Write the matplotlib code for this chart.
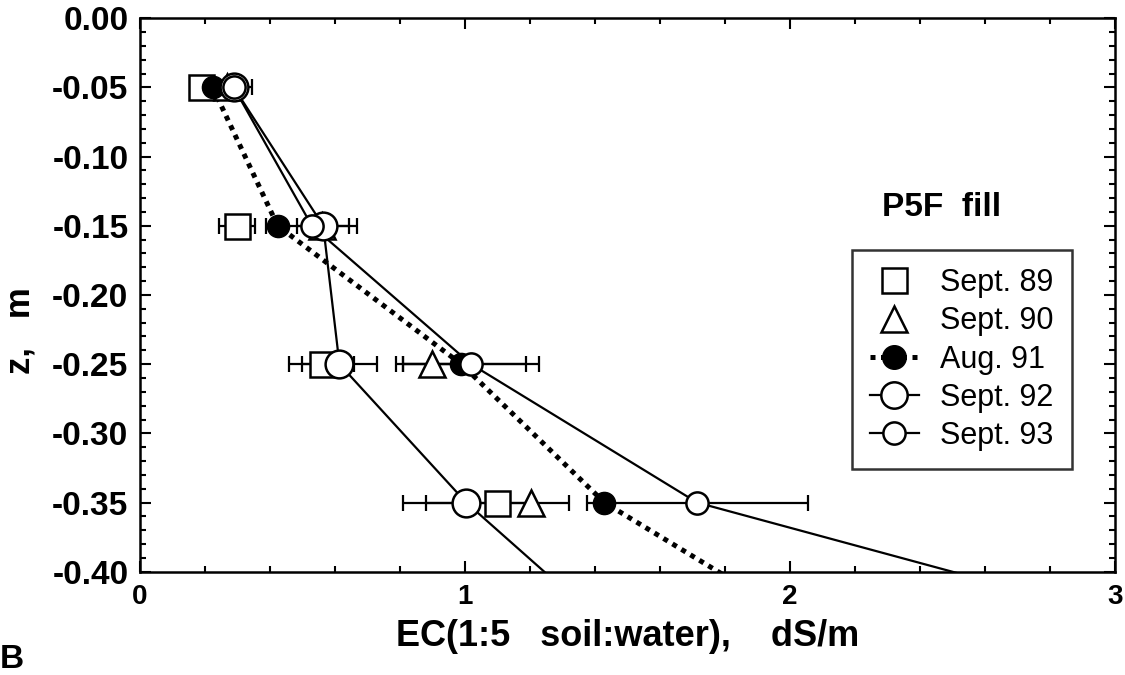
import matplotlib
matplotlib.use('Agg')
import numpy as np
import matplotlib.pyplot as plt
from matplotlib.lines import Line2D
from matplotlib.ticker import MultipleLocator, FormatStrFormatter

plt.rcParams['font.family'] = ['Liberation Sans', 'DejaVu Sans']
plt.rcParams['axes.unicode_minus'] = False

# depth of the samples (m); the last entry is below the plotted range and
# only carries the connecting lines down to the frame
depth = [-0.05, -0.15, -0.25, -0.35]
depth_line = [-0.05, -0.15, -0.25, -0.35, -0.45]

# EC(1:5) values, dS/m
sept89 = [0.19, 0.30, 0.56, 1.10]
sept89_err = [0.0, 0.055, 0.10, 0.22]
sept90 = [0.27, 0.56, 0.90, 1.205]
sept90_err = [0.0, 0.0, 0.09, 0.0]
aug91 = [0.225, 0.425, 0.99, 1.43, 2.13]
aug91_err = [0.0, 0.0, 0.20, 0.0]
sept92 = [0.29, 0.565, 0.615, 1.005, 1.485]
sept92_err = [0.0, 0.08, 0.115, 0.195]
sept93 = [0.29, 0.53, 1.02, 1.715, 3.285]
sept93_err = [0.055, 0.14, 0.21, 0.34]

labels = ['Sept. 89', 'Sept. 90', 'Aug. 91', 'Sept. 92', 'Sept. 93']

fig = plt.figure(figsize=(11.25, 6.75), dpi=100)
ax = fig.add_axes([0.124, 0.153, 0.867, 0.820])

eb = dict(fmt='none', ecolor='black', elinewidth=1.6, capsize=6, capthick=1.6, zorder=2)

# Sept 89 - squares only
ax.errorbar(sept89, depth, xerr=sept89_err, **eb)
ax.plot(sept89, depth, ls='none', marker='s', ms=18, mfc='white', mec='black', mew=1.8, zorder=3)

# Sept 90 - triangles only
ax.errorbar(sept90, depth, xerr=sept90_err, **eb)
ax.plot(sept90, depth, ls='none', marker='^', ms=19, mfc='white', mec='black', mew=1.8, zorder=4)

# Aug 91 - filled circles, dotted
ax.errorbar(aug91[:4], depth, xerr=aug91_err, **eb)
ax.plot(aug91, depth_line, color='black', ls=(0, (1, 1.1)), lw=3.6, zorder=2.5)
ax.plot(aug91[:4], depth, ls='none', marker='o', ms=16, mfc='black', mec='black', zorder=5)

# Sept 92 - large open circles
ax.errorbar(sept92[:4], depth, xerr=sept92_err, **eb)
ax.plot(sept92, depth_line, color='black', lw=1.6, zorder=2.5)
ax.plot(sept92[:4], depth, ls='none', marker='o', ms=20, mfc='white', mec='black', mew=1.8, zorder=6)

# Sept 93 - smaller open circles
ax.errorbar(sept93[:4], depth, xerr=sept93_err, **eb)
ax.plot(sept93, depth_line, color='black', lw=1.6, zorder=2.5)
ax.plot(sept93[:4], depth, ls='none', marker='o', ms=16, mfc='white', mec='black', mew=1.8, zorder=7)

ax.set_xlim(0, 3)
ax.set_ylim(-0.40, 0.0)
ax.xaxis.set_major_locator(MultipleLocator(1))
ax.xaxis.set_minor_locator(MultipleLocator(0.2))
ax.yaxis.set_major_locator(MultipleLocator(0.05))
ax.yaxis.set_minor_locator(MultipleLocator(0.01))
ax.yaxis.set_major_formatter(FormatStrFormatter('%.2f'))
ax.tick_params(which='both', direction='in', top=True, right=True, width=1.5)
ax.tick_params(which='major', length=8)
ax.tick_params(which='minor', length=4.5)
ax.tick_params(axis='y', which='major', labelsize=24, pad=8)
ax.tick_params(axis='x', which='major', labelsize=20, pad=9)
for lab in ax.get_xticklabels() + ax.get_yticklabels():
    lab.set_fontweight('bold')
for sp in ax.spines.values():
    sp.set_linewidth(1.8)

ax.set_xlabel('EC(1:5   soil:water),    dS/m', fontsize=26, fontweight='bold', labelpad=6)
fig.text(0.018, 0.51, 'z,   m', rotation=90, fontsize=25, fontweight='bold',
         ha='center', va='center')
fig.text(0.0, 0.0, 'B', fontsize=24, fontweight='bold', ha='left', va='bottom')

fig.text(0.8365, 0.693, 'P5F  fill', fontsize=24, fontweight='bold', ha='center', va='center')

handles = [
    Line2D([], [], ls='none', marker='s', ms=18, mfc='white', mec='black', mew=1.8),
    Line2D([], [], ls='none', marker='^', ms=19, mfc='white', mec='black', mew=1.8),
    Line2D([], [], color='black', ls=(0, (1, 1.1)), lw=3.6, marker='o', ms=17, mfc='black', mec='black'),
    Line2D([], [], color='black', lw=1.6, marker='o', ms=19, mfc='white', mec='black', mew=1.8),
    Line2D([], [], color='black', lw=1.6, marker='o', ms=16, mfc='white', mec='black', mew=1.8),
]
leg = ax.legend(handles, labels, loc='upper left', bbox_to_anchor=(0.757, 0.630),
                bbox_transform=fig.transFigure, borderaxespad=0, fontsize=22,
                frameon=True, fancybox=False, handlelength=1.6, handletextpad=0.7,
                labelspacing=0.27, borderpad=0.6)
leg.get_frame().set_edgecolor('black')
leg.get_frame().set_linewidth(1.8)

fig.savefig('out.png', dpi=100)
